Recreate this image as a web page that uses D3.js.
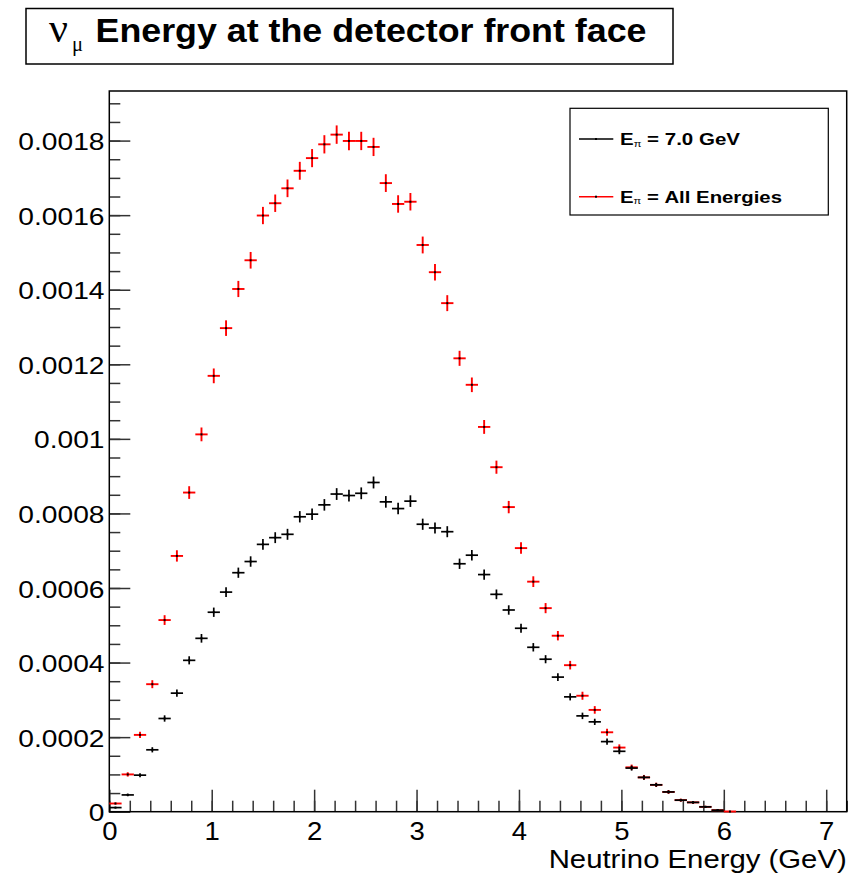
<!DOCTYPE html>
<html>
<head>
<meta charset="utf-8">
<script src="https://cdn.jsdelivr.net/npm/d3@7"></script>
<style>
  html, body { margin: 0; padding: 0; background: #fff; }
  svg { display: block; }
</style>
</head>
<body>
<svg id="chart" width="853" height="879"></svg>
<script>
// Histogram binning: 60 bins of 0.12 GeV between 0 and 7.2 GeV
const nBins = 60;
const xMin = 0, xMax = 7.2;
const yMax = 0.001933;

// nu_mu energy spectrum, all pion energies (bin contents and errors)
const allEnergies = [
  0.22e-4, 1.00e-4, 2.06e-4, 3.42e-4, 5.14e-4, 6.86e-4, 8.56e-4, 10.12e-4, 11.69e-4, 12.97e-4,
  14.02e-4, 14.79e-4, 15.99e-4, 16.32e-4, 16.72e-4, 17.19e-4, 17.53e-4, 17.90e-4, 18.16e-4, 17.99e-4,
  17.99e-4, 17.83e-4, 16.86e-4, 16.30e-4, 16.36e-4, 15.20e-4, 14.47e-4, 13.64e-4, 12.16e-4, 11.45e-4,
  10.32e-4, 9.24e-4, 8.17e-4, 7.07e-4, 6.17e-4, 5.46e-4, 4.72e-4, 3.93e-4, 3.11e-4, 2.73e-4,
  2.13e-4, 1.72e-4, 1.19e-4, 0.92e-4, 0.72e-4, 0.53e-4, 0.31e-4, 0.25e-4, 0.13e-4, 0.04e-4,
  0.005e-4, 0, 0, 0, 0, 0, 0, 0, 0, 0
];
const allEnergiesErr = [
  2.7e-6, 5.8e-6, 8.3e-6, 10.7e-6, 13.1e-6, 15.2e-6, 17.0e-6, 18.5e-6, 19.8e-6, 20.9e-6,
  21.7e-6, 22.3e-6, 23.2e-6, 23.4e-6, 23.7e-6, 24.0e-6, 24.3e-6, 24.5e-6, 24.7e-6, 24.6e-6,
  24.6e-6, 24.5e-6, 23.8e-6, 23.4e-6, 23.5e-6, 22.6e-6, 22.1e-6, 21.4e-6, 20.2e-6, 19.6e-6,
  18.6e-6, 17.6e-6, 16.6e-6, 15.4e-6, 14.4e-6, 13.6e-6, 12.6e-6, 11.5e-6, 10.8e-6, 10.2e-6,
  9.4e-6, 8.6e-6, 7.4e-6, 6.6e-6, 5.8e-6, 5.0e-6, 4.0e-6, 3.6e-6, 2.6e-6, 1.5e-6,
  0.4e-6, 0, 0, 0, 0, 0, 0, 0, 0, 0
];

// nu_mu energy spectrum, 7.0 GeV pions (bin contents and errors)
const pion7GeV = [
  0.11e-4, 0.45e-4, 0.98e-4, 1.66e-4, 2.50e-4, 3.18e-4, 4.06e-4, 4.65e-4, 5.35e-4, 5.89e-4,
  6.41e-4, 6.71e-4, 7.17e-4, 7.35e-4, 7.44e-4, 7.91e-4, 7.98e-4, 8.23e-4, 8.52e-4, 8.48e-4,
  8.54e-4, 8.83e-4, 8.31e-4, 8.13e-4, 8.33e-4, 7.71e-4, 7.61e-4, 7.51e-4, 6.65e-4, 6.88e-4,
  6.36e-4, 5.83e-4, 5.41e-4, 4.92e-4, 4.41e-4, 4.09e-4, 3.61e-4, 3.08e-4, 2.57e-4, 2.41e-4,
  1.88e-4, 1.62e-4, 1.17e-4, 0.92e-4, 0.72e-4, 0.53e-4, 0.31e-4, 0.25e-4, 0.13e-4, 0.04e-4,
  0, 0, 0, 0, 0, 0, 0, 0, 0, 0
];
const pion7GeVErr = [
  1.8e-6, 3.6e-6, 5.3e-6, 7.0e-6, 8.5e-6, 9.6e-6, 10.9e-6, 11.6e-6, 12.5e-6, 13.1e-6,
  13.7e-6, 14.0e-6, 14.5e-6, 14.6e-6, 14.7e-6, 15.2e-6, 15.3e-6, 15.5e-6, 15.8e-6, 15.7e-6,
  15.8e-6, 16.0e-6, 15.6e-6, 15.4e-6, 15.6e-6, 15.0e-6, 14.9e-6, 14.8e-6, 13.9e-6, 14.2e-6,
  13.6e-6, 13.0e-6, 12.6e-6, 12.0e-6, 11.3e-6, 10.9e-6, 10.3e-6, 9.5e-6, 8.7e-6, 8.4e-6,
  8.6e-6, 7.8e-6, 6.8e-6, 6.0e-6, 5.2e-6, 4.4e-6, 3.4e-6, 3.0e-6, 2.2e-6, 1.3e-6,
  0, 0, 0, 0, 0, 0, 0, 0, 0, 0
];

// Axis ticks
const xTicks = [0, 1, 2, 3, 4, 5, 6, 7];
const yTicks = [0, 0.0002, 0.0004, 0.0006, 0.0008, 0.001, 0.0012, 0.0014, 0.0016, 0.0018];
const xMinorStep = 0.2;
const yMinorStep = 0.00005;

// Texts
const titleSymbol = "ν";
const titleSub = "μ";
const titleText = "Energy at the detector front face";
const xAxisTitle = "Neutrino Energy (GeV)";
const legendEntries = [
  { main: "E", sub: "π", rest: " = 7.0 GeV", color: "#000000", width: 120 },
  { main: "E", sub: "π", rest: " = All Energies", color: "#ff0000", width: 162 }
];

const svg = d3.select("#chart");
const frame = { left: 109.3, right: 846.7, top: 91, bottom: 811.7 };

const x = d3.scaleLinear().domain([xMin, xMax]).range([frame.left, frame.right]);
const y = d3.scaleLinear().domain([0, yMax]).range([frame.bottom, frame.top]);
const binWidth = (xMax - xMin) / nBins;

const sans = "'Liberation Sans', Arial, Helvetica, sans-serif";
const serif = "'Liberation Serif', 'DejaVu Serif', 'Times New Roman', serif";

const fmt = v => v === 0 ? "0" : String(+v.toFixed(5));

// ---- minor ticks
const xMinor = d3.range(0, xMax + 1e-9, xMinorStep).map(v => +v.toFixed(4));
const yMinor = d3.range(0, yMax, yMinorStep).map(v => +v.toFixed(6));

const tickStroke = "#333";

const xMinorAxis = svg.append("g").attr("transform", `translate(0,${frame.bottom})`)
  .call(d3.axisBottom(x).tickValues(xMinor).tickSizeInner(-11).tickSizeOuter(0).tickFormat(""));
const xMajorAxis = svg.append("g").attr("transform", `translate(0,${frame.bottom})`)
  .call(d3.axisBottom(x).tickValues(xTicks).tickSizeInner(-22).tickSizeOuter(0).tickFormat(fmt));

const yMinorAxis = svg.append("g").attr("transform", `translate(${frame.left},0)`)
  .call(d3.axisLeft(y).tickValues(yMinor).tickSizeInner(-11).tickSizeOuter(0).tickFormat(""));
const yMajorAxis = svg.append("g").attr("transform", `translate(${frame.left},0)`)
  .call(d3.axisLeft(y).tickValues(yTicks).tickSizeInner(-21).tickSizeOuter(0).tickFormat(fmt));

[xMinorAxis, xMajorAxis, yMinorAxis, yMajorAxis].forEach(g => {
  g.select(".domain").remove();
  g.selectAll(".tick line").attr("stroke", tickStroke).attr("stroke-width", 1.5);
});

const xLabelScale = 1.1;
xMajorAxis.selectAll(".tick text")
  .attr("font-family", sans).attr("font-size", 25).attr("fill", "#000")
  .attr("dy", null).attr("y", 28.3).attr("x", 0)
  .attr("text-anchor", "middle")
  .attr("transform", `scale(${xLabelScale},1)`);

const yLabelScale = 1.15;
yMajorAxis.selectAll(".tick text")
  .attr("font-family", sans).attr("font-size", 24.5).attr("fill", "#000")
  .attr("dy", null).attr("y", 9).attr("x", -4.8 / yLabelScale)
  .attr("text-anchor", "end")
  .attr("transform", `scale(${yLabelScale},1)`);

// ---- frame
svg.append("rect")
  .attr("x", frame.left).attr("y", frame.top)
  .attr("width", frame.right - frame.left).attr("height", frame.bottom - frame.top)
  .attr("fill", "none").attr("stroke", "#000").attr("stroke-width", 1.5);

// ---- histograms drawn as error crosses (empty bins skipped)
function drawHist(values, errors, color, markerColor, width) {
  const bins = values.map((v, i) => ({
    v, e: errors[i],
    lo: xMin + i * binWidth, hi: xMin + (i + 1) * binWidth,
    c: xMin + (i + 0.5) * binWidth
  })).filter(d => d.v > 0);

  const g = svg.append("g");
  g.selectAll("line.h").data(bins).join("line").attr("class", "h")
    .attr("x1", d => x(d.lo)).attr("x2", d => x(d.hi))
    .attr("y1", d => y(d.v)).attr("y2", d => y(d.v))
    .attr("stroke", color).attr("stroke-width", width);
  g.selectAll("line.v").data(bins).join("line").attr("class", "v")
    .attr("x1", d => x(d.c)).attr("x2", d => x(d.c))
    .attr("y1", d => y(Math.max(0, d.v - d.e))).attr("y2", d => y(d.v + d.e))
    .attr("stroke", color).attr("stroke-width", width);
  g.selectAll("rect.m").data(bins).join("rect").attr("class", "m")
    .attr("x", d => x(d.c) - 1).attr("y", d => y(d.v) - 1)
    .attr("width", 2).attr("height", 2)
    .attr("fill", markerColor);
}

drawHist(allEnergies, allEnergiesErr, "#ff0000", "#000000", 1.9);
drawHist(pion7GeV, pion7GeVErr, "#000000", "#000000", 1.7);

// ---- title box
svg.append("rect")
  .attr("x", 26).attr("y", 8.5).attr("width", 647).attr("height", 55.5)
  .attr("fill", "#fff").attr("stroke", "#000").attr("stroke-width", 1.5);
svg.append("text")
  .attr("x", 49).attr("y", 42)
  .attr("font-family", serif).attr("font-size", 40)
  .attr("textLength", 19).attr("lengthAdjust", "spacingAndGlyphs")
  .text(titleSymbol);
svg.append("text")
  .attr("x", 72).attr("y", 50.5)
  .attr("font-family", serif).attr("font-size", 20)
  .attr("textLength", 11).attr("lengthAdjust", "spacingAndGlyphs")
  .text(titleSub);
svg.append("text")
  .attr("x", 95.5).attr("y", 41.5)
  .attr("font-family", sans).attr("font-weight", "bold").attr("font-size", 32.5)
  .attr("textLength", 551).attr("lengthAdjust", "spacingAndGlyphs")
  .text(titleText);

// ---- x axis title
svg.append("text")
  .attr("x", frame.right).attr("y", 868.3)
  .attr("text-anchor", "end")
  .attr("font-family", sans).attr("font-size", 26.5)
  .attr("textLength", 298).attr("lengthAdjust", "spacingAndGlyphs")
  .text(xAxisTitle);

// ---- legend
const legend = svg.append("g");
legend.append("rect")
  .attr("x", 570).attr("y", 108.3).attr("width", 258.3).attr("height", 106.7)
  .attr("fill", "#fff").attr("stroke", "#000").attr("stroke-width", 1.2);
const rowY = [139, 196.7];
legendEntries.forEach((d, i) => {
  legend.append("line")
    .attr("x1", 579).attr("x2", 613.3).attr("y1", rowY[i]).attr("y2", rowY[i])
    .attr("stroke", d.color).attr("stroke-width", 1.5);
  legend.append("rect")
    .attr("x", 595).attr("y", rowY[i] - 1).attr("width", 2).attr("height", 2)
    .attr("fill", "#000");
  const t = legend.append("text")
    .attr("x", 620).attr("y", rowY[i] + 6)
    .attr("font-family", sans).attr("font-weight", "bold").attr("font-size", 16.5)
    .attr("textLength", d.width).attr("lengthAdjust", "spacingAndGlyphs");
  t.append("tspan").text(d.main);
  t.append("tspan").attr("font-size", 9).attr("font-weight", "normal").attr("dy", 1.5).text(d.sub);
  t.append("tspan").attr("dy", -1.5).text(d.rest);
});
</script>
</body>
</html>
